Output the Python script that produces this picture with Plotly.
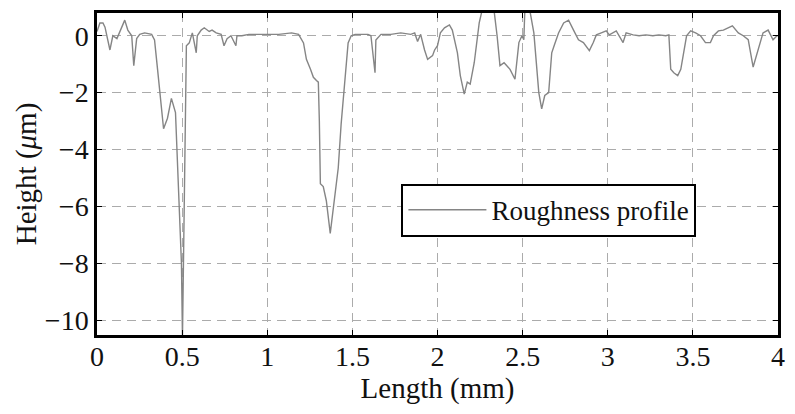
import plotly.graph_objects as go

length_mm = [0, 0.017, 0.035, 0.047, 0.076, 0.093, 0.117, 0.146, 0.163, 0.181, 0.204, 0.216, 0.233, 0.251,
             0.280, 0.321, 0.338, 0.356, 0.373, 0.391, 0.414, 0.437, 0.461, 0.469, 0.484, 0.496, 0.502,
             0.513, 0.520, 0.525, 0.542, 0.560, 0.583, 0.589, 0.612, 0.630, 0.659, 0.676, 0.700, 0.729,
             0.746, 0.764, 0.787, 0.816, 0.822, 0.851, 0.892, 0.933, 0.968, 1.009, 1.067, 1.143, 1.184,
             1.213, 1.230, 1.254, 1.271, 1.289, 1.300, 1.306, 1.312, 1.329, 1.347, 1.370, 1.399, 1.417,
             1.434, 1.458, 1.475, 1.493, 1.516, 1.534, 1.592, 1.609, 1.633, 1.638, 1.668, 1.726, 1.784,
             1.843, 1.866, 1.883, 1.901, 1.924, 1.942, 1.971, 1.983, 2.000, 2.017, 2.041, 2.070, 2.087,
             2.117, 2.134, 2.157, 2.175, 2.192, 2.216, 2.245, 2.262, 2.332, 2.350, 2.367, 2.391, 2.408,
             2.426, 2.455, 2.478, 2.496, 2.507, 2.513, 2.542, 2.566, 2.595, 2.612, 2.630, 2.653, 2.671,
             2.688, 2.711, 2.741, 2.770, 2.799, 2.828, 2.857, 2.892, 2.915, 2.933, 2.962, 2.991, 3.009,
             3.050, 3.090, 3.108, 3.149, 3.184, 3.224, 3.265, 3.300, 3.341, 3.359, 3.370, 3.388, 3.411,
             3.429, 3.446, 3.463, 3.487, 3.516, 3.545, 3.574, 3.603, 3.621, 3.650, 3.679, 3.732, 3.767,
             3.796, 3.825, 3.854, 3.883, 3.912, 3.942, 3.971, 3.994, 4.0]

height_um = [0.15, 0.45, 0.45, 0.3, -0.5, 0.0, -0.1, 0.35, 0.55, 0.2, 0.0, -1.05, -0.1, 0.05,
             0.1, 0.05, -0.15, -1.2, -2.3, -3.27, -2.9, -2.2, -2.7, -4.0, -6.0, -8.0, -10.6,
             -6.0, -1.6, -0.35, -0.25, 0.1, -0.6, 0.0, 0.2, 0.28, 0.15, 0.2, 0.1, 0.05,
             -0.35, -0.1, 0.0, -0.35, 0.0, 0.0, 0.05, 0.05, 0.05, 0.05, 0.05, 0.1, 0.05,
             -0.25, -0.83, -1.18, -1.46, -1.57, -1.63, -3.0, -5.2, -5.3, -5.8, -6.95, -5.45, -4.65,
             -3.1, -1.4, -0.25, 0.0, 0.05, 0.05, 0.05, 0.0, -1.3, -0.15, 0.05, 0.05, 0.1,
             0.05, 0.1, -0.2, 0.05, -0.5, -0.83, -0.7, -0.5, -0.35, 0.1, 0.28, 0.38, 0.2,
             -0.6, -1.4, -2.05, -1.63, -1.7, -0.94, 0.45, 0.9, 0.9, 0.0, -1.05, -0.95, -1.05,
             -1.18, -1.53, -0.24, 0.0, -0.14, 0.9, 0.9, 0.1, -2.0, -2.57, -2.1, -2.0, -0.6,
             -0.3, 0.1, 0.45, 0.55, 0.2, -0.14, -0.24, -0.52, -0.24, 0.03, 0.1, 0.17, 0.03,
             0.17, -0.24, 0.1, 0.03, 0.0, 0.03, 0.0, 0.03, 0.0, 0.03, -1.18, -1.3, -1.4,
             -1.18, -0.6, 0.0, 0.17, 0.1, 0.0, -0.24, -0.24, 0.0, 0.17, 0.2, 0.35, 0.1,
             0.0, -0.14, -1.1, -0.5, 0.1, 0.2, -0.14, 0.0, 0.0]

x_ticks = [0, 0.5, 1, 1.5, 2, 2.5, 3, 3.5, 4]
x_tick_labels = ["0", "0.5", "1", "1.5", "2", "2.5", "3", "3.5", "4"]
y_ticks = [-10, -8, -6, -4, -2, 0]
y_tick_labels = ["\u221210", "\u22128", "\u22126", "\u22124", "\u22122", "0"]

font_family = "Liberation Serif"

fig = go.Figure()
fig.add_trace(go.Scatter(
    x=length_mm, y=height_um, mode="lines", name="Roughness profile",
    line=dict(color="#858585", width=1.4),
))

axis_common = dict(
    showline=True, linecolor="black", linewidth=2.5, mirror="ticks",
    ticks="inside", ticklen=5, tickcolor="black", tickwidth=1,
    showgrid=True, gridcolor="#ababab", gridwidth=1.4, griddash="9px,6px",
    zeroline=False,
    tickfont=dict(family=font_family, size=28, color="#111"),
)

fig.update_layout(
    width=795, height=414,
    margin=dict(l=97, r=12, t=10, b=79),
    paper_bgcolor="white", plot_bgcolor="white",
    font=dict(family=font_family, size=28, color="#111"),
    xaxis=dict(axis_common, range=[0, 4], tickvals=x_ticks, ticktext=x_tick_labels, ticklabelstandoff=-5,
               title=dict(text="Length (mm)", font=dict(family=font_family, size=29), standoff=0)),
    yaxis=dict(axis_common, range=[-10.52, 0.8], tickvals=y_ticks, ticktext=y_tick_labels,
               title=dict(text="Height (<i>\u03bc</i>m)", font=dict(family=font_family, size=29), standoff=0)),
    showlegend=True,
    legend=dict(x=0.447, y=0.47, xanchor="left", yanchor="top",
                bgcolor="white", bordercolor="black", borderwidth=2,
                font=dict(family=font_family, size=27, color="#111"),
                itemwidth=78, tracegroupgap=0),
)

fig.write_html("out.html")
